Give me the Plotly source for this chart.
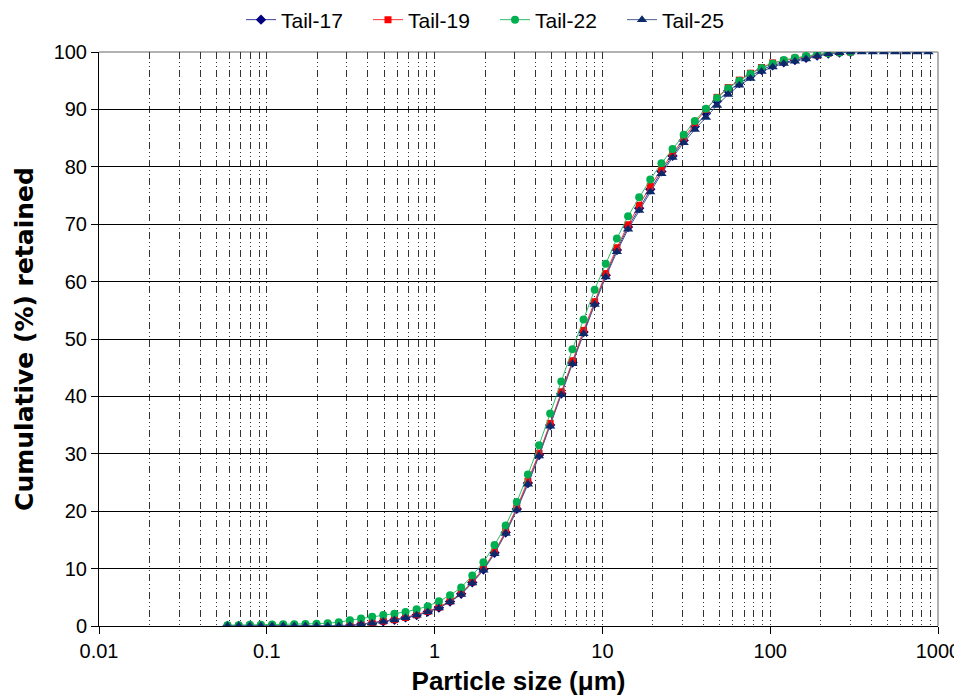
import plotly.graph_objects as go

# Particle sizes (µm)
sizes = [0.0583, 0.0680, 0.0792, 0.0922, 0.1075, 0.1252, 0.1458, 0.1699, 0.1979, 0.2306,
         0.2685, 0.3128, 0.3644, 0.4245, 0.4945, 0.5761, 0.6711, 0.7818, 0.9108, 1.061,
         1.236, 1.440, 1.677, 1.954, 2.276, 2.652, 3.089, 3.599, 4.192, 4.884,
         5.689, 6.628, 7.721, 8.994, 10.47, 12.20, 14.22, 16.56, 19.29, 22.48,
         26.18, 30.50, 35.53, 41.40, 48.22, 56.18, 65.44, 76.24, 88.81, 103.4,
         120.5, 140.4, 163.6, 190.5, 222.0, 258.6, 301.2, 350.9, 408.8, 476.2,
         554.6, 646.1, 752.7, 876.9]

tail17 = [0, 0, 0, 0, 0, 0, 0, 0, 0, 0, 0,
          0.1, 0.3, 0.5, 0.8, 1.1, 1.5, 1.9, 2.5, 3.2, 4.25,
          5.6, 7.6, 9.85, 12.75, 16.3, 20.4, 24.9, 29.8, 35.0, 40.5,
          45.9, 51.2, 56.2, 61.1, 65.5, 69.5, 72.8, 76.1, 79.2, 81.9,
          84.6, 87.0, 89.3, 91.4, 93.2, 94.6, 95.8, 96.9, 97.7, 98.2,
          98.6, 99.0, 99.4, 99.75, 99.9, 100]

tail19 = [0, 0, 0, 0, 0, 0, 0, 0, 0, 0, 0,
          0.1, 0.3, 0.55, 0.85, 1.1, 1.5, 1.95, 2.55, 3.3, 4.35,
          5.7, 7.7, 10.0, 12.9, 16.5, 20.6, 25.2, 30.1, 35.3, 40.8,
          46.2, 51.5, 56.5, 61.4, 65.9, 69.9, 73.3, 76.6, 79.6, 82.3,
          85.0, 87.6, 90.0, 92.1, 93.8, 95.1, 96.3, 97.3, 98.1, 98.5,
          98.9, 99.2, 99.5, 99.8, 99.95, 100]

tail22 = [0.15, 0.15, 0.2, 0.2, 0.25, 0.3, 0.3, 0.35, 0.4, 0.5, 0.65,
          1.0, 1.3, 1.6, 1.9, 2.15, 2.45, 2.9, 3.45, 4.3, 5.35,
          6.7, 8.8, 11.1, 14.1, 17.5, 21.6, 26.4, 31.5, 37.0, 42.6,
          48.2, 53.4, 58.6, 63.1, 67.5, 71.4, 74.7, 77.8, 80.6, 83.1,
          85.6, 88.0, 90.1, 92.0, 93.7, 95.0, 96.2, 97.2, 98.0, 98.6,
          99.0, 99.3, 99.6, 99.8, 99.9, 100]

tail25 = [0, 0, 0, 0, 0, 0, 0, 0, 0, 0, 0,
          0.1, 0.3, 0.5, 0.8, 1.05, 1.45, 1.86, 2.44, 3.14, 4.18,
          5.5, 7.5, 9.7, 12.6, 16.1, 20.2, 24.7, 29.6, 34.8, 40.3,
          45.7, 50.9, 56.0, 60.8, 65.2, 69.1, 72.4, 75.6, 78.8, 81.6,
          84.2, 86.5, 88.6, 90.7, 92.6, 94.2, 95.4, 96.6, 97.4, 98.0,
          98.4, 98.8, 99.3, 99.7, 99.85, 100, 100, 100, 100, 100, 100, 100, 100]

x_tickvals = [0.01, 0.1, 1, 10, 100, 1000]
x_ticktext = ["0.01", "0.1", "1", "10", "100", "1000"]
y_tickvals = [0, 10, 20, 30, 40, 50, 60, 70, 80, 90, 100]

series = [
    ("Tail-17", tail17, "#000080", "#3c3ca0", "diamond", 8),
    ("Tail-19", tail19, "#ff0000", "#ff3333", "square", 7),
    ("Tail-22", tail22, "#00b050", "#2fbf6a", "circle", 8),
    ("Tail-25", tail25, "#0c2a6a", "#4a5f92", "triangle-up", 9),
]

fig = go.Figure()
for name, vals, mcol, lcol, sym, ms in series:
    fig.add_trace(go.Scatter(
        x=sizes[:len(vals)], y=vals, name=name, mode="lines+markers",
        line=dict(color=lcol, width=1),
        marker=dict(color=mcol, symbol=sym, size=ms, line=dict(width=0)),
    ))

minor_vals = [m * 10 ** e for e in range(-2, 3) for m in range(2, 10)]
dash = "7px,3px,1px,3px,1px,3px"

# page body has an 8px margin, so the figure is 8px smaller on each axis
W, H = 954, 688

fig.update_layout(
    width=W, height=H,
    margin=dict(l=91, r=24, t=44, b=70),
    paper_bgcolor="white", plot_bgcolor="white",
    font=dict(family="Arial, Liberation Sans, sans-serif", size=20, color="black"),
    showlegend=True,
    legend=dict(orientation="h", xref="container", x=(241 - 8) / W, xanchor="left",
                yref="container", y=1 - (20 - 8) / H, yanchor="middle",
                font=dict(size=21), entrywidth=82, itemwidth=30,
                bgcolor="rgba(0,0,0,0)"),
    xaxis=dict(
        type="log", range=[-2, 3], automargin=False,
        tickmode="array", tickvals=x_tickvals, ticktext=x_ticktext,
        ticks="outside", ticklen=7, tickcolor="black",
        showline=True, linecolor="black", linewidth=1, layer="below traces",
        showgrid=True, gridcolor="#333333", gridwidth=1, griddash=dash,
        minor=dict(tickmode="array", tickvals=minor_vals, showgrid=True,
                   gridcolor="#333333", gridwidth=1, griddash=dash, ticks=""),
        tickfont=dict(size=20),
        title=dict(text="<b>Particle size (μm)</b>", font=dict(size=26), standoff=12),
        zeroline=False,
    ),
    yaxis=dict(
        range=[0, 100], tickmode="array", tickvals=y_tickvals, automargin=False,
        ticks="outside", ticklen=7, tickcolor="black",
        showline=True, linecolor="black", linewidth=1,
        showgrid=True, gridcolor="black", gridwidth=1,
        zeroline=True, zerolinecolor="black", zerolinewidth=1,
        tickfont=dict(size=20),
        title=dict(text="<b>Cumulative (%) retained</b>",
                   font=dict(size=25, family="DejaVu Sans"), standoff=12),
    ),
    shapes=[
        dict(type="line", xref="paper", yref="paper", x0=0, x1=1, y0=1, y1=1,
             line=dict(color="#999999", width=1.5), layer="between"),
        dict(type="line", xref="paper", yref="paper", x0=1, x1=1, y0=0, y1=1,
             line=dict(color="#999999", width=1.5), layer="above"),
    ],
)

fig.write_html("out.html")
